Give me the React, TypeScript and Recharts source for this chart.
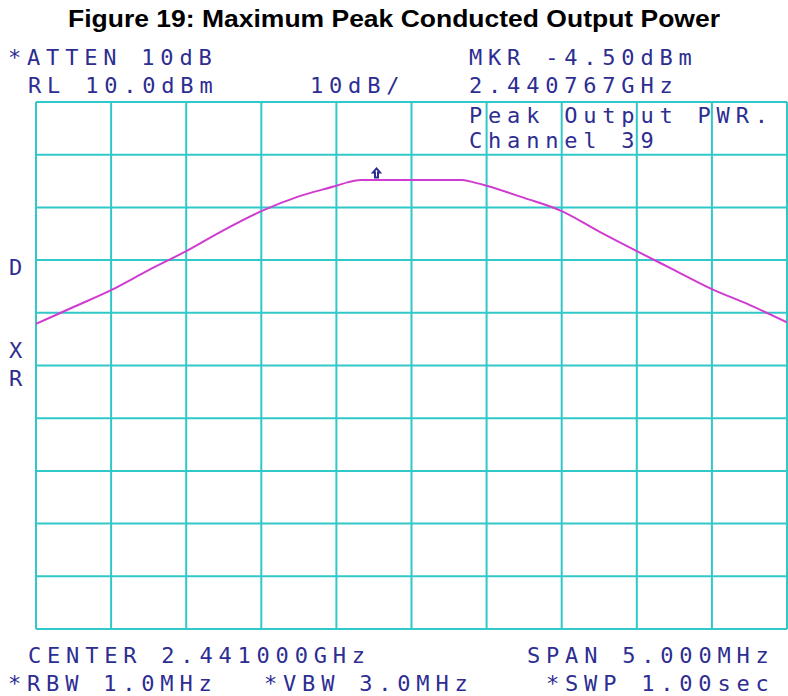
import { LineChart, Line, XAxis, YAxis, ReferenceLine, ReferenceDot } from 'recharts';

// spectrum analyzer trace, frequency in MHz, level in dBm
const freqMHz = [
  2438.5, 2438.75, 2439.0, 2439.25, 2439.5, 2439.75, 2440.0, 2440.25, 2440.5, 2440.58,
  2440.66, 2441.0, 2441.34, 2441.42, 2441.5, 2441.75, 2442.0, 2442.25, 2442.5, 2442.75,
  2443.0, 2443.25, 2443.5,
];
const levelDbm = [
  -32.1, -28.9, -25.7, -21.9, -18.3, -14.3, -10.7, -7.9, -5.9, -5.2,
  -4.8, -4.8, -4.8, -5.3, -5.9, -8.2, -10.7, -14.6, -18.3, -21.9,
  -25.5, -28.5, -31.8,
];

const xTicks = [2438.5, 2439, 2439.5, 2440, 2440.5, 2441, 2441.5, 2442, 2442.5, 2443, 2443.5];
const yTicks = [10, 0, -10, -20, -30, -40, -50, -60, -70, -80, -90];

const markerFreq = 2440.767;
const markerLevel = -4.5;

const headerLeft = ['*ATTEN 10dB', 'RL 10.0dBm'];
const headerRight = ['MKR -4.50dBm', '2.440767GHz'];
const scaleLabel = '10dB/';
const titleLines = ['Peak Output PWR.', 'Channel 39'];
const sideLabels = ['D', 'X', 'R'];
const footerTop = ['CENTER 2.441000GHz', 'SPAN 5.000MHz'];
const footerBottom = ['*RBW 1.0MHz', '*VBW 3.0MHz', '*SWP 1.00sec'];

const data = freqMHz.map((f, i) => ({ freq: f, level: levelDbm[i] }));

const GRID = '#30c8c8';
const TRACE = '#d03cd0';
const INK = '#2d2d92';

const monoText = {
  fontFamily: '"DejaVu Sans Mono", monospace',
  fontSize: 22,
  letterSpacing: 5.8,
  fill: INK,
};

const Marker = (props: any) => {
  const { cx, cy } = props;
  return (
    <path
      d={`M${cx},${cy - 10} L${cx + 3.5},${cy - 6} L${cx + 1.5},${cy - 6} L${cx + 1.5},${cy - 1} L${cx - 1.5},${cy - 1} L${cx - 1.5},${cy - 6} L${cx - 3.5},${cy - 6} Z`}
      fill="none"
      stroke={INK}
      strokeWidth={2}
    />
  );
};

export default function App() {
  return (
    <div style={{ position: 'absolute', left: 0, top: 0, width: 788, height: 696, background: '#fff' }}>
      <LineChart
        width={788}
        height={696}
        data={data}
        margin={{ top: 102, right: 1, bottom: 67, left: 36 }}
      >
        <XAxis
          dataKey="freq"
          type="number"
          domain={[2438.5, 2443.5]}
          ticks={xTicks}
          allowDataOverflow
          height={0}
          tick={false}
          axisLine={false}
          tickLine={false}
        />
        <YAxis
          type="number"
          domain={[-90, 10]}
          ticks={yTicks}
          allowDataOverflow
          width={0}
          tick={false}
          axisLine={false}
          tickLine={false}
        />
        {xTicks.map((t) => (
          <ReferenceLine key={`vx${t}`} x={t} stroke={GRID} strokeWidth={2} />
        ))}
        {yTicks.map((t) => (
          <ReferenceLine key={`hy${t}`} y={t} stroke={GRID} strokeWidth={2} />
        ))}
        <Line
          type="monotone"
          dataKey="level"
          stroke={TRACE}
          strokeWidth={2}
          dot={false}
          isAnimationActive={false}
        />
        <ReferenceDot x={markerFreq} y={markerLevel} shape={Marker} />
      </LineChart>
      <svg
        width={788}
        height={696}
        style={{ position: 'absolute', left: 0, top: 0, pointerEvents: 'none' }}
      >
        <text
          x={394}
          y={27}
          textAnchor="middle"
          fontFamily='"Liberation Sans", Arial, sans-serif'
          fontWeight="bold"
          fontSize={23}
          textLength={652}
          lengthAdjust="spacingAndGlyphs"
          fill="#000"
        >
          Figure 19: Maximum Peak Conducted Output Power
        </text>
        <text x={8} y={65} {...monoText}>{headerLeft[0]}</text>
        <text x={28} y={93} {...monoText}>{headerLeft[1]}</text>
        <text x={310} y={93} {...monoText}>{scaleLabel}</text>
        <text x={469} y={65} {...monoText}>{headerRight[0]}</text>
        <text x={469} y={93} {...monoText}>{headerRight[1]}</text>
        <text x={469} y={123} {...monoText}>{titleLines[0]}</text>
        <text x={469} y={148} {...monoText}>{titleLines[1]}</text>
        <text x={9} y={275} {...monoText}>{sideLabels[0]}</text>
        <text x={9} y={358} {...monoText}>{sideLabels[1]}</text>
        <text x={9} y={386} {...monoText}>{sideLabels[2]}</text>
        <text x={28} y={663} {...monoText}>{footerTop[0]}</text>
        <text x={527} y={663} {...monoText}>{footerTop[1]}</text>
        <text x={8} y={691} {...monoText}>{footerBottom[0]}</text>
        <text x={264} y={691} {...monoText}>{footerBottom[1]}</text>
        <text x={546} y={691} {...monoText}>{footerBottom[2]}</text>
      </svg>
    </div>
  );
}
